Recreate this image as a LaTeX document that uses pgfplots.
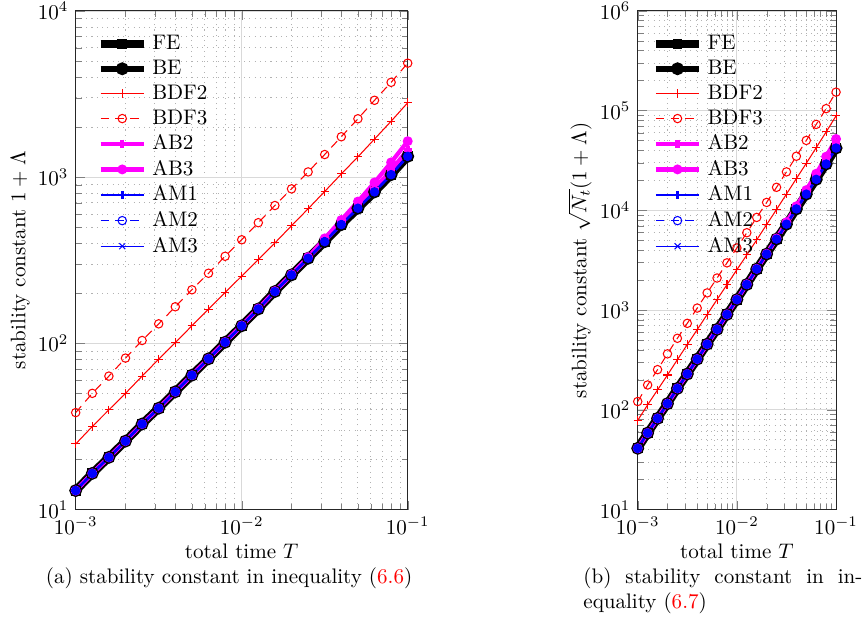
\documentclass[border=0pt]{standalone}
\usepackage{pgfplots}
\usepackage{pgfplotstable}
\pgfplotsset{compat=1.18}
\definecolor{mred}{rgb}{1,0,0}
\definecolor{mmag}{rgb}{1,0,1}
\definecolor{mblue}{rgb}{0,0,1}

\pgfplotstableread{
T FE AB2 AB3 BDF2 BDF3
0.001 13.0 13.0 13.0 24.8 38.3
0.0012589 16.5 16.5 16.5 31.6 50.0
0.0015849 20.6 20.6 20.6 39.8 63.5
0.0019953 25.8 25.8 25.8 50.0 81.5
0.0025119 32.7 32.7 32.7 63.5 104
0.0031623 40.7 40.7 40.7 80.3 131
0.0039811 51.1 51.1 51.1 101 166
0.0050119 64.3 64.3 64.3 127.5 210
0.0063096 80.7 80.7 80.8 160.5 264
0.0079433 101.5 101.5 101.7 202 334
0.01 127.5 127.5 128 254 420
0.012589 161 161 162 319 532
0.015849 205 205 206 402 675
0.019953 258 258 260 510 850
0.025119 325 327 330 645 1075
0.031623 409 412 428 820 1368
0.039811 518 530 552 1045 1750
0.050119 650 675 713 1325 2245
0.063096 815 850 929 1695 2900
0.079433 1035 1100 1227 2170 3720
0.1 1334 1460 1645 2805 4850
}\leftdata

\pgfplotstableread{
T FE AB2 AB3 BDF2 BDF3
0.001 41.1 41.1 41.1 78.4 121.1
0.0012589 58.5 58.5 58.5 112.1 177.4
0.0015849 82.0 82.0 82.0 158.4 252.8
0.0019953 115.3 115.3 115.3 223.4 364.1
0.0025119 163.9 163.9 163.9 318.3 521.2
0.0031623 228.9 228.9 228.9 451.5 736.6
0.0039811 322.4 322.4 322.4 637.3 1047.5
0.0050119 455.2 455.2 455.2 902.6 1486.6
0.0063096 641.0 641.0 641.8 1274.9 2097.0
0.0079433 904.7 904.7 906.5 1800.4 2977
0.01 1275 1275 1280 2540 4200
0.012589 1806 1806 1818 3579 5969
0.015849 2581 2581 2594 5061 8498
0.019953 3646 3646 3674 7206 12011
0.025119 5151 5183 5231 10223 17039
0.031623 7272 7325 7610 14580 24323
0.039811 10334 10574 11012 20848 34913
0.050119 14554 15113 15964 29667 50266
0.063096 20473 21352 23336 42578 72848
0.079433 29166 30998 34577 61151 104830
0.1 42181 46165 52015 88694 153357
}\rightdata

\pgfplotsset{
  sFE/.style={black, line width=4pt, mark=square*, mark size=2.1pt, mark options={solid, line width=0.5pt}},
  sBE/.style={black, line width=2.8pt, mark=*, mark size=1.75pt, mark options={solid, line width=2.5pt}},
  sBDF2/.style={mred, line width=0.5pt, mark=+, mark size=2pt, mark options={solid}},
  sBDF3/.style={mred, line width=0.5pt, dash pattern=on 4pt off 3pt, mark=o, mark size=2pt, mark options={solid}},
  sAB2/.style={mmag, line width=2pt, mark=+, mark size=2pt, mark options={solid}},
  sAB3/.style={mmag, line width=2pt, mark=o, mark size=1.3pt, mark options={solid}},
  sAM1/.style={mblue, line width=1.3pt, mark=+, mark size=2pt, mark options={solid}},
  sAM2/.style={mblue, line width=0.5pt, dash pattern=on 4pt off 3pt, mark=o, mark size=2pt, mark options={solid}},
  sAM3/.style={mblue, line width=0.5pt, mark=x, mark size=2pt, mark options={solid}},
  sFill/.style={mblue, mark=*, mark size=1.8pt, mark options={solid, draw=mblue, fill=mblue, line width=0.3pt}, only marks},
}

\begin{document}
\begin{tikzpicture}
\useasboundingbox (0,0) rectangle (411.8pt,298.3pt);

\begin{axis}[
  scale only axis, xmode=log, ymode=log, xmin=1e-3, xmax=1e-1,
  clip=false,
  xmajorgrids, ymajorgrids, xminorgrids, yminorgrids,
  major grid style={solid, draw=black!15, line width=0.4pt},
  minor grid style={draw=black!30, line width=0.4pt, dash pattern=on 0.5pt off 2pt},
  axis line style={draw=black!85, line width=0.5pt},
  xlabel={total time $T$}, xlabel shift=-2pt, ylabel shift=-3pt,
  legend cell align=left,
  legend style={draw=none, fill=none, at={(0.055,0.965)}, anchor=north west,
    row sep=-0.5pt, inner sep=1pt},
  legend image code/.code={\draw[mark repeat=2,mark phase=2] plot coordinates {(0cm,0cm)(0.36cm,0cm)(0.72cm,0cm)};},
  at={(35.96pt,56.3pt)}, anchor=south west,
  width=157.7pt, height=236.8pt,
  ymin=10, ymax=1e4,
  ylabel={stability constant $1+\Lambda$}]
\addplot[sFE] table[x=T,y=FE] {\leftdata}; \addlegendentry{FE}
\addplot[sBE] table[x=T,y=FE] {\leftdata}; \addlegendentry{BE}
\addplot[sBDF2] table[x=T,y=BDF2] {\leftdata}; \addlegendentry{BDF2}
\addplot[sBDF3] table[x=T,y=BDF3] {\leftdata}; \addlegendentry{BDF3}
\addplot[sAB2] table[x=T,y=AB2] {\leftdata}; \addlegendentry{AB2}
\addplot[sAB3] table[x=T,y=AB3] {\leftdata}; \addlegendentry{AB3}
\addplot[sAM1] table[x=T,y=FE] {\leftdata}; \addlegendentry{AM1}
\addplot[sAM2] table[x=T,y=FE] {\leftdata}; \addlegendentry{AM2}
\addplot[sAM3] table[x=T,y=FE] {\leftdata}; \addlegendentry{AM3}
\addplot[sFill, forget plot] table[x=T,y=FE] {\leftdata};
\end{axis}

\begin{axis}[
  scale only axis, xmode=log, ymode=log, xmin=1e-3, xmax=1e-1,
  clip=false,
  xmajorgrids, ymajorgrids, xminorgrids, yminorgrids,
  major grid style={solid, draw=black!15, line width=0.4pt},
  minor grid style={draw=black!30, line width=0.4pt, dash pattern=on 0.5pt off 2pt},
  axis line style={draw=black!85, line width=0.5pt},
  xlabel={total time $T$}, xlabel shift=-2pt, ylabel shift=-3pt,
  legend cell align=left,
  legend style={draw=none, fill=none, at={(0.058,0.965)}, anchor=north west,
    row sep=-0.5pt, inner sep=1pt},
  legend image code/.code={\draw[mark repeat=2,mark phase=2] plot coordinates {(0cm,0cm)(0.36cm,0cm)(0.72cm,0cm)};},
  at={(302.9pt,56.3pt)}, anchor=south west,
  width=94.2pt, height=236.8pt,
  ymin=10, ymax=1e6,
  ylabel={stability constant $\sqrt{N_t}(1+\Lambda)$}]
\addplot[sFE] table[x=T,y=FE] {\rightdata}; \addlegendentry{FE}
\addplot[sBE] table[x=T,y=FE] {\rightdata}; \addlegendentry{BE}
\addplot[sBDF2] table[x=T,y=BDF2] {\rightdata}; \addlegendentry{BDF2}
\addplot[sBDF3] table[x=T,y=BDF3] {\rightdata}; \addlegendentry{BDF3}
\addplot[sAB2] table[x=T,y=AB2] {\rightdata}; \addlegendentry{AB2}
\addplot[sAB3] table[x=T,y=AB3] {\rightdata}; \addlegendentry{AB3}
\addplot[sAM1] table[x=T,y=FE] {\rightdata}; \addlegendentry{AM1}
\addplot[sAM2] table[x=T,y=FE] {\rightdata}; \addlegendentry{AM2}
\addplot[sAM3] table[x=T,y=FE] {\rightdata}; \addlegendentry{AM3}
\addplot[sFill, forget plot] table[x=T,y=FE] {\rightdata};
\end{axis}

\node[anchor=base, inner sep=0pt] at (108.8pt,21.25pt) {(a) stability constant in inequality (\textcolor{mred}{6.6})};
\node[anchor=base west, inner sep=0pt] at (276.9pt,21.25pt) {\makebox[132.5pt][s]{(b) stability constant in in-}};
\node[anchor=base west, inner sep=0pt] at (276.9pt,9.4pt) {equality (\textcolor{mred}{6.7})};
\end{tikzpicture}
\end{document}
